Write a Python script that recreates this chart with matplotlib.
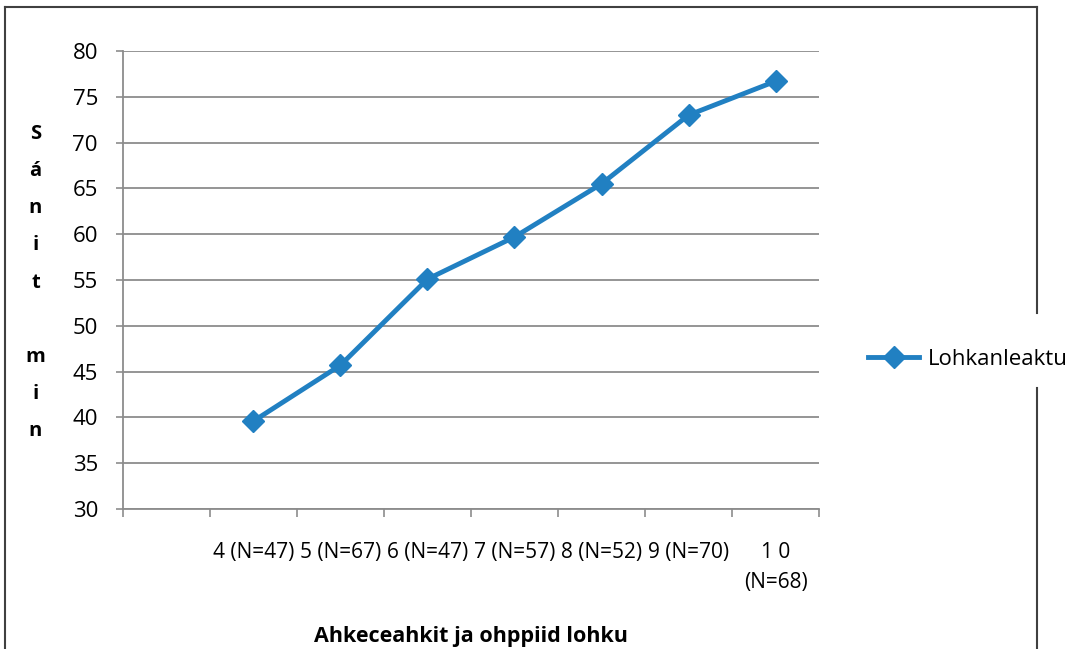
import matplotlib.pyplot as plt
from matplotlib.lines import Line2D

# data
categories = ['', '4 (N=47)', '5 (N=67)', '6 (N=47)', '7 (N=57)', '8 (N=52)', '9 (N=70)', '1 0\n(N=68)']
values = [39.6, 45.7, 55.1, 59.7, 65.5, 73.0, 76.7]
yticks = [30, 35, 40, 45, 50, 55, 60, 65, 70, 75, 80]

blue = '#2180C2'
grid = '#8C8C8C'
plt.rcParams['font.family'] = ['Open Sans', 'DejaVu Sans']

fig = plt.figure(figsize=(10.73, 6.49), dpi=100)
ax = fig.add_axes([0.1146, 0.2157, 0.6487, 0.7057])

x = list(range(1, len(values) + 1))
ax.plot(x, values, color=blue, lw=3.5, marker='D', markersize=11, label='Lohkanleaktu')

ax.set_ylim(30, 80)
ax.set_yticks(yticks)
ax.set_xlim(-0.5, 7.5)
ax.set_xticks([i + 0.5 for i in range(-1, 8)])
ax.set_xticklabels([])
ax.set_xticks(range(len(categories)), minor=True)
ax.set_xticklabels(categories, minor=True, fontsize=15, linespacing=1.55)
ax.tick_params(axis='x', which='minor', length=0, pad=24)
ax.tick_params(axis='x', which='major', length=6, width=1.2, color=grid, direction='out')
ax.tick_params(axis='y', length=5, width=1.2, color=grid, labelsize=16, pad=13)
ax.yaxis.grid(True, color=grid, lw=1.3)
ax.set_axisbelow(True)
for s in ['top', 'right']:
    ax.spines[s].set_visible(False)
for s in ['left', 'bottom']:
    ax.spines[s].set_color(grid)
    ax.spines[s].set_linewidth(1.3)

fig.text(0.4389, 0.020, 'Ahkeceahkit ja ohppiid lohku', ha='center', va='center',
         fontsize=15.5, fontweight='bold')
fig.text(0.033, 0.5647, '\n'.join('Sánit min'), ha='center', va='center',
         fontsize=14.5, fontweight='bold', linespacing=2.14)

ax.legend(loc='center left', bbox_to_anchor=(1.042, 0.326), frameon=False, fontsize=16,
          handlelength=2.3, handletextpad=0.4)

# outer chart border with a gap at the legend
bc = '#404040'
fig.add_artist(Line2D([0.005, 0.005], [-0.01, 0.989], color=bc, lw=1.5))
fig.add_artist(Line2D([0.005, 0.966], [0.989, 0.989], color=bc, lw=1.5))
fig.add_artist(Line2D([0.966, 0.966], [0.989, 0.518], color=bc, lw=1.5))
fig.add_artist(Line2D([0.966, 0.966], [0.402, -0.01], color=bc, lw=1.5))

plt.savefig('out.png')
